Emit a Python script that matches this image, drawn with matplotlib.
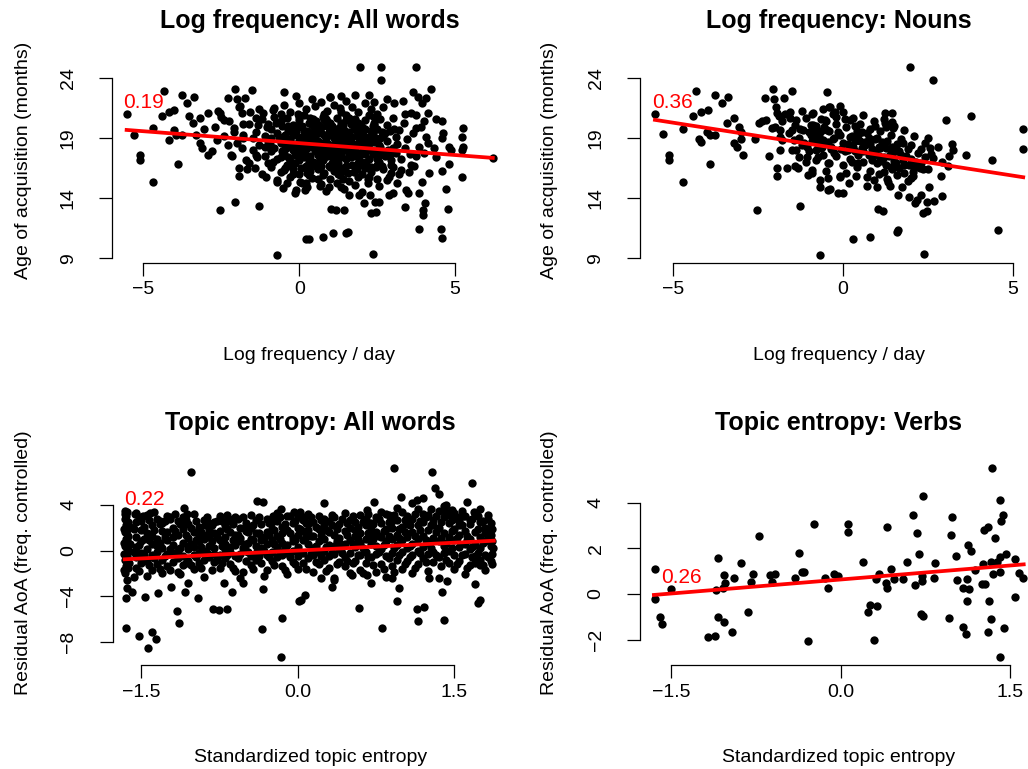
import matplotlib.pyplot as plt
import numpy as np

plt.rcParams['font.family'] = ['Liberation Sans', 'DejaVu Sans']

# ---- data: log frequency vs age of acquisition, all words ----
freq_all_pts = [
    (-5.54, 21.03), (-5.29, 19.28), (-5.12, 17.61), (-5.12, 17.19), (-4.70, 15.39), (-4.69, 19.83),
    (-4.35, 22.97), (-4.40, 20.86), (-4.19, 21.22), (-4.19, 18.86), (-4.01, 21.36), (-4.03, 19.69),
    (-3.95, 19.28), (-3.77, 19.28), (-3.90, 16.83), (-3.77, 22.61), (-3.59, 21.97), (-3.37, 22.47),
    (-3.55, 20.81), (-3.41, 20.25), (-3.20, 20.67), (-3.18, 18.58), (-3.13, 18.17), (-3.05, 19.75),
    (-2.93, 21.14), (-2.94, 17.61), (-2.63, 18.86), (-2.54, 13.03), (-2.54, 21.08), (-2.43, 20.53),
    (-2.27, 20.47), (-2.30, 22.33), (-2.16, 17.53), (-2.06, 13.67), (-2.09, 19.83), (-2.06, 23.08),
    (-2.00, 22.25), (-1.95, 21.64), (-1.85, 21.14), (-1.74, 22.33), (-1.80, 19.28), (-1.85, 18.17),
    (-1.92, 16.50), (-1.95, 15.86), (-1.69, 16.44), (-1.53, 23.03), (-1.58, 21.22), (-1.39, 20.67),
    (-1.32, 20.11), (-1.28, 13.33), (-1.42, 16.50), (-1.37, 17.47), (-1.16, 21.08), (-1.07, 15.81),
    (-1.00, 16.92), (-0.85, 21.36), (-0.70, 15.39), (-0.70, 9.28), (-0.52, 14.83), (-0.49, 22.89),
    (-0.49, 16.36), (-0.15, 14.47), (-0.09, 14.69), (0.02, 15.39), (0.23, 10.61),
    (1.96, 24.97), (2.62, 24.92), (2.62, 23.86), (3.74, 24.97), (0.99, 22.42), (1.35, 22.53),
    (2.23, 22.61), (2.81, 22.25), (3.64, 22.89), (3.80, 22.47), (4.22, 23.08), (4.06, 22.33),
    (3.94, 21.92), (3.32, 22.14), (3.05, 21.92), (3.58, 21.14), (3.74, 20.94), (4.12, 21.08),
    (4.38, 20.58), (4.57, 20.44), (4.01, 20.47), (3.74, 19.83), (5.26, 19.83), (5.23, 19.14),
    (5.26, 18.25), (5.23, 18.03), (4.62, 19.42), (4.59, 19.00), (4.81, 18.31), (4.86, 18.03),
    (4.06, 19.14), (4.12, 18.58), (4.33, 18.17), (4.38, 17.47), (4.81, 16.89), (4.59, 16.31),
    (5.21, 15.75), (6.23, 17.33), (4.72, 14.75), (4.76, 13.11), (4.54, 11.42), (4.59, 10.67),
    (3.83, 11.44), (4.04, 13.64), (3.98, 13.03), (3.96, 12.61), (3.83, 14.42), (3.93, 15.39),
    (4.17, 16.08), (3.69, 16.69), (3.74, 17.53), (3.53, 16.22), (3.42, 14.69), (3.40, 13.31),
    (3.48, 14.42), (3.26, 16.36), (3.13, 15.25), (2.95, 16.08), (2.89, 15.81), (3.00, 14.42),
    (2.87, 14.28), (2.57, 13.72), (2.44, 13.72), (2.31, 12.75), (2.47, 12.89), (2.55, 15.03),
    (2.27, 14.28), (2.09, 13.58), (1.93, 14.28), (1.61, 14.28), (1.03, 13.11), (1.19, 13.03),
    (1.42, 13.00), (1.56, 11.22), (1.49, 11.14), (1.08, 11.08), (0.76, 10.75), (0.31, 10.58),
    (2.38, 9.36), (0.66, 15.03), (0.97, 14.97), (1.35, 14.97), (0.18, 14.69), (0.21, 15.31),
    (-0.80, 21.5), (-0.50, 21.8), (-0.30, 21.2), (0.00, 21.9), (0.20, 21.4), (0.50, 21.7),
    (0.70, 22.0), (0.90, 21.3), (1.10, 21.8), (1.30, 21.5), (1.50, 22.1), (1.70, 21.6),
    (1.90, 21.2), (2.10, 21.9), (2.30, 21.4), (2.50, 21.0), (0.40, 22.3), (1.00, 22.4),
    (-0.10, 22.5), (1.80, 22.6), (2.40, 22.0), (2.70, 21.6),
    (-1.20, 20.6), (-1.00, 20.2), (-0.80, 20.8), (-0.60, 20.4), (-0.40, 20.7), (-0.20, 20.1),
    (0.00, 20.5), (0.15, 20.9), (0.30, 20.3), (0.45, 20.6), (0.60, 20.1), (0.75, 20.8),
    (0.90, 20.4), (1.05, 20.0), (1.20, 20.7), (1.35, 20.3), (1.50, 20.9), (1.65, 20.2),
    (1.80, 20.6), (1.95, 20.0), (2.10, 20.5), (2.25, 20.9), (2.40, 20.3), (2.60, 20.6),
    (2.80, 20.1), (3.00, 20.7),
    (-1.40, 19.5), (-1.10, 19.2), (-0.90, 19.8), (-0.70, 19.4), (-0.50, 19.0), (-0.35, 19.7),
    (-0.20, 19.3), (-0.05, 19.9), (0.10, 19.1), (0.25, 19.6), (0.40, 19.2), (0.55, 19.8),
    (0.70, 19.4), (0.85, 19.0), (1.00, 19.7), (1.15, 19.3), (1.30, 19.9), (1.45, 19.1),
    (1.60, 19.5), (1.75, 19.8), (1.90, 19.2), (2.05, 19.6), (2.20, 19.0), (2.35, 19.4),
    (2.50, 19.8), (2.70, 19.2), (2.90, 19.6), (3.10, 19.1),
    (-1.30, 18.4), (-1.00, 18.8), (-0.80, 18.2), (-0.60, 18.6), (-0.45, 18.1), (-0.30, 18.9),
    (-0.15, 18.5), (0.00, 18.0), (0.15, 18.7), (0.30, 18.3), (0.45, 18.9), (0.60, 18.4),
    (0.75, 18.0), (0.90, 18.6), (1.05, 18.2), (1.20, 18.8), (1.35, 18.4), (1.50, 18.0),
    (1.65, 18.7), (1.80, 18.3), (1.95, 18.9), (2.10, 18.5), (2.25, 18.1), (2.40, 18.7),
    (2.60, 18.3), (2.80, 18.8), (3.00, 18.2),
    (-1.10, 17.5), (-0.90, 17.9), (-0.70, 17.3), (-0.50, 17.7), (-0.30, 17.1), (-0.15, 17.6),
    (0.00, 17.2), (0.15, 17.8), (0.30, 17.4), (0.45, 17.0), (0.60, 17.6), (0.75, 17.2),
    (0.90, 17.8), (1.05, 17.4), (1.20, 17.0), (1.35, 17.7), (1.50, 17.3), (1.65, 17.9),
    (1.80, 17.5), (1.95, 17.1), (2.10, 17.7), (2.25, 17.3), (2.40, 17.9), (2.55, 17.0),
    (2.75, 17.5), (2.95, 17.2),
    (-0.90, 16.6), (-0.60, 16.2), (-0.40, 16.8), (-0.20, 16.4), (0.00, 16.0), (0.20, 16.7),
    (0.35, 16.3), (0.50, 16.9), (0.65, 16.5), (0.80, 16.1), (0.95, 16.7), (1.10, 16.3),
    (1.25, 16.9), (1.40, 16.5), (1.55, 16.1), (1.70, 16.8), (1.85, 16.4), (2.00, 16.0),
    (2.15, 16.6), (2.30, 16.2), (2.50, 16.8), (2.70, 16.4),
    (-0.70, 15.5), (-0.30, 15.8), (0.10, 15.3), (0.40, 15.7), (0.70, 15.2), (1.00, 15.6),
    (1.30, 15.9), (1.60, 15.4), (1.90, 15.8), (2.20, 15.3), (2.50, 15.6), (0.25, 14.9),
    (0.85, 14.6), (1.45, 14.8), (2.00, 14.5),
    (0.30, 19.0), (0.60, 18.8), (0.90, 19.2), (1.20, 18.6), (0.50, 17.9), (0.80, 17.7),
    (1.10, 18.0), (0.20, 18.1), (1.40, 19.0), (0.70, 19.9), (1.00, 20.3), (0.10, 20.0),
    (1.60, 18.9), (1.90, 17.8), (0.35, 17.5), (1.25, 17.6), (0.65, 16.9), (1.00, 16.6),
    (-0.40, 18.3), (-0.10, 19.5), (2.00, 19.9), (2.30, 18.0), (1.50, 20.5), (0.80, 21.0),
    (-0.60, 21.0), (-1.60, 20.2), (-1.80, 19.0), (-1.50, 18.0), (-2.10, 19.5), (-2.30, 18.4),
    (-1.70, 17.2), (-2.50, 20.8), (-2.70, 19.9), (-1.90, 21.7), (-2.20, 17.6), (-1.20, 16.0),
    (-1.05, 19.9), (-0.95, 18.5), (-0.85, 17.0), (-0.75, 20.3), (-0.65, 19.1), (-0.55, 17.9),
    (-0.45, 16.5), (-0.35, 20.0), (-0.25, 18.3), (-0.15, 16.9), (-0.05, 21.0), (0.05, 18.9),
    (0.15, 17.4), (0.25, 16.1), (0.35, 20.7), (0.45, 19.5), (0.55, 18.1), (0.65, 17.3),
    (0.75, 15.9), (0.85, 20.6), (0.95, 19.5), (1.05, 18.4), (1.15, 17.1), (1.25, 16.0),
    (1.35, 21.2), (1.45, 19.7), (1.55, 18.6), (1.65, 17.4), (1.75, 16.2), (1.85, 20.3),
    (1.95, 19.5), (2.05, 18.1), (2.15, 17.0), (2.25, 15.8), (2.35, 20.0), (2.45, 18.9),
    (2.55, 17.6), (2.65, 16.7), (2.75, 19.4), (2.85, 18.0), (2.95, 16.8), (3.05, 19.8),
    (3.15, 18.5), (3.25, 17.3), (3.35, 20.3), (3.45, 18.9), (3.55, 17.7), (3.65, 19.4),
    (3.85, 18.3), (4.00, 17.8), (3.40, 21.0), (3.20, 16.0),
    (-0.90, 19.0), (-0.60, 17.4), (-0.30, 19.6), (0.00, 18.3), (0.30, 17.0), (0.60, 19.5),
    (0.90, 18.0), (1.20, 16.5), (1.50, 19.2), (1.80, 17.8), (2.10, 16.5), (2.40, 19.1),
    (2.70, 17.8), (3.00, 16.6),
    (-0.20, 18.0), (0.10, 17.6), (0.40, 18.5), (0.70, 18.2), (1.00, 17.9), (1.30, 18.2),
    (1.60, 17.6), (1.90, 18.6), (2.20, 18.4), (2.50, 17.9), (0.20, 19.4), (0.50, 19.1),
    (0.80, 19.3), (1.10, 19.0), (1.40, 18.6), (1.70, 19.1), (2.00, 18.7), (2.30, 19.6),
    (2.60, 19.0), (0.00, 19.0), (-0.50, 18.7), (0.40, 20.1), (0.90, 20.0), (1.40, 20.1),
    (1.90, 20.3), (2.40, 20.1), (0.60, 16.4), (1.20, 15.3), (1.80, 15.1), (0.30, 15.9),
    (-0.40, 15.3), (2.80, 15.5),
    (-1.80, 20.2), (-1.50, 19.0), (-1.30, 21.4), (-1.10, 18.3), (-2.00, 18.6), (-2.40, 19.2),
    (-2.60, 21.3), (-1.60, 16.9), (-1.40, 17.6), (-2.80, 17.9), (-3.30, 19.3),
    (-0.55, 20.0), (-0.45, 19.3), (-0.35, 17.4), (-0.25, 16.7), (-0.05, 17.7), (0.05, 16.5),
    (0.15, 19.6), (0.25, 18.5), (0.35, 18.8), (0.45, 18.3), (0.55, 16.7), (0.55, 20.4),
    (0.65, 19.7), (0.75, 18.6), (0.85, 17.5), (0.95, 18.2), (1.05, 16.9), (1.15, 19.8),
    (1.25, 18.9), (1.35, 17.4), (1.45, 16.3), (1.55, 19.4), (1.65, 18.2), (1.75, 17.8),
    (1.85, 19.6), (1.95, 17.6), (2.05, 16.8), (2.15, 19.1), (2.25, 18.6), (2.35, 17.7),
    (2.45, 16.6), (2.55, 18.4), (2.65, 19.5), (0.10, 18.4), (0.50, 18.6), (0.90, 17.5),
    (1.30, 19.4), (1.70, 18.4), (2.10, 19.8), (2.50, 17.3), (0.30, 16.6), (0.70, 16.7),
    (1.10, 16.9), (1.50, 16.7), (1.90, 16.9), (2.30, 16.6), (-0.20, 16.0), (0.60, 15.6),
    (1.40, 15.6), (2.20, 15.6), (0.00, 20.8), (0.80, 20.5), (1.60, 20.7), (2.40, 20.8),
    (3.20, 19.7), (3.40, 18.2), (3.60, 16.8), (3.90, 19.9), (3.10, 17.8), (2.90, 17.7),
]
freq_all_fit_x = [-5.54, 6.21]
freq_all_fit_y = [19.69, 17.36]

# ---- data: log frequency vs age of acquisition, nouns ----
freq_noun_pts = [
    (-5.53, 21.03), (-5.28, 19.36), (-5.11, 17.61), (-5.11, 17.19), (-4.72, 15.36), (-4.70, 19.75),
    (-4.42, 20.86), (-4.32, 22.97), (-4.19, 21.19), (-4.23, 18.92), (-4.19, 18.67), (-3.96, 21.36),
    (-4.01, 19.56), (-3.91, 19.28), (-3.75, 19.28), (-3.91, 16.83), (-3.76, 22.56), (-3.57, 21.92),
    (-3.37, 22.47), (-3.40, 20.25), (-3.20, 20.67), (-3.20, 18.64), (-3.13, 18.31), (-3.05, 19.97),
    (-3.00, 19.50), (-3.00, 18.92), (-2.93, 17.61), (-2.59, 18.92), (-2.54, 13.00), (-2.46, 20.25),
    (-2.39, 20.47), (-2.25, 20.53), (-2.29, 22.33), (-2.17, 17.53), (-2.10, 19.83), (-2.05, 23.08),
    (-2.03, 22.25), (-1.97, 21.64), (-1.93, 21.14), (-1.87, 20.81), (-1.85, 19.69), (-1.79, 18.86),
    (-1.73, 22.33), (-1.85, 18.03), (-1.93, 16.50), (-1.95, 15.89), (-1.66, 16.50), (-1.56, 21.22),
    (-1.51, 22.97), (-1.50, 19.69), (-1.44, 18.86), (-1.38, 20.53), (-1.37, 18.03), (-1.31, 16.50),
    (-1.26, 13.33), (-1.17, 19.69), (-1.15, 18.58), (-1.07, 17.47), (-1.02, 15.94), (-0.92, 16.36),
    (-0.87, 21.08), (-0.87, 20.11), (-0.82, 19.14), (-0.79, 18.03), (-0.73, 17.47), (-0.68, 15.53),
    (-0.68, 14.97), (-0.63, 18.31), (-0.60, 18.86), (-0.68, 9.28), (-0.53, 20.53), (-0.48, 19.69),
    (-0.48, 22.89), (-0.43, 16.92), (-0.43, 14.69), (-0.40, 21.64),
    (1.97, 24.97), (2.66, 23.86), (-0.38, 21.64), (-0.24, 21.22), (-0.09, 21.69), (1.24, 21.14),
    (1.43, 21.08), (1.24, 20.25), (1.43, 20.39), (1.46, 19.83), (3.03, 20.53), (3.75, 20.81),
    (5.28, 19.81), (5.28, 18.14), (4.38, 17.19), (3.62, 17.61), (3.20, 18.53), (3.23, 18.03),
    (3.13, 17.53), (3.10, 16.69), (2.87, 15.86), (2.90, 14.22), (2.56, 18.17), (2.64, 17.33),
    (2.54, 14.97), (2.51, 19.00), (2.36, 16.42), (2.29, 14.28), (2.12, 13.58), (2.17, 13.86),
    (2.48, 13.69), (2.68, 13.81), (2.36, 12.75), (2.48, 12.92), (2.05, 15.89), (1.95, 14.14),
    (1.73, 14.97), (1.63, 14.28), (2.38, 9.36), (4.57, 11.36), (1.58, 11.22), (1.63, 11.36),
    (0.79, 10.75), (0.30, 10.58), (1.04, 13.08), (1.19, 12.97), (-0.38, 14.75), (-0.14, 14.42),
    (0.01, 14.47), (0.19, 15.31), (0.70, 15.03), (0.99, 14.97), (1.33, 15.39), (1.38, 15.03),
    (0.38, 15.86), (-0.09, 15.86), (-0.43, 15.67),
    (-2.00, 19.9), (-1.80, 20.4), (-1.60, 19.4), (-1.40, 20.1), (-1.30, 19.0), (-1.20, 18.4),
    (-1.10, 20.7), (-1.00, 19.5), (-0.90, 18.8), (-0.80, 20.0), (-0.70, 19.2), (-0.60, 18.5),
    (-0.50, 20.4), (-0.40, 19.6), (-0.30, 18.9), (-0.20, 20.2), (-0.10, 19.3), (0.00, 18.6),
    (0.10, 19.9), (0.20, 19.1), (0.30, 18.3), (0.40, 19.6), (0.50, 18.8), (0.60, 17.9),
    (0.70, 19.4), (0.80, 18.5), (0.90, 17.7), (1.00, 19.0), (1.10, 18.2), (1.20, 17.4),
    (1.30, 18.8), (1.40, 17.9), (1.50, 17.1), (1.60, 18.5), (1.70, 17.6), (1.80, 16.8),
    (1.90, 18.1), (2.00, 17.3), (2.10, 16.5), (2.20, 17.8), (2.30, 16.9), (2.40, 17.4),
    (-1.50, 18.0), (-1.30, 17.4), (-1.00, 17.9), (-0.80, 17.2), (-0.60, 17.6), (-0.40, 16.9),
    (-0.20, 17.5), (0.00, 16.8), (0.20, 17.3), (0.40, 16.6), (0.60, 17.0), (0.80, 16.3),
    (1.00, 16.9), (1.20, 16.2), (1.40, 16.6), (1.60, 15.9), (1.80, 16.1), (2.00, 15.7),
    (-0.50, 16.3), (0.10, 16.1), (0.70, 15.8), (1.30, 15.6),
    (-1.70, 21.0), (-1.20, 21.3), (-0.90, 21.0), (-0.60, 21.4), (-0.30, 21.0), (0.00, 21.2),
    (0.30, 20.7), (0.60, 20.9), (0.90, 20.4), (1.20, 20.6), (1.50, 20.0), (1.80, 19.7),
    (2.10, 19.2), (2.40, 18.6), (0.50, 20.2), (0.20, 20.5), (-0.20, 20.8), (0.80, 19.8),
    (1.10, 19.6), (1.40, 19.3), (1.70, 18.9), (2.00, 18.4), (2.30, 18.1), (2.60, 17.7),
    (2.80, 18.3), (2.90, 17.0), (2.50, 16.4), (1.90, 15.4), (0.90, 15.5), (-0.10, 15.8),
    (-0.90, 16.1), (-1.10, 17.0), (-1.40, 16.7), (0.35, 17.9), (0.65, 18.4), (1.05, 17.5),
    (1.45, 18.3), (0.15, 18.0), (-0.35, 18.1), (-0.65, 18.2), (-0.95, 19.3), (0.45, 19.3),
    (0.95, 18.9), (1.55, 17.9), (1.25, 19.9),
    (-0.95, 20.1), (-0.75, 18.6), (-0.55, 19.9), (-0.35, 18.3), (-0.15, 19.5), (0.05, 17.9),
    (0.25, 19.2), (0.45, 17.6), (0.65, 18.7), (0.85, 17.2), (1.05, 18.3), (1.25, 16.8),
    (1.45, 17.8), (1.65, 16.5), (1.85, 17.5), (2.05, 16.2), (0.15, 18.5), (0.55, 18.2),
    (0.95, 17.9), (1.35, 17.5), (1.75, 17.2), (-0.25, 19.0), (-0.65, 19.6), (0.35, 20.0),
    (0.75, 19.0), (1.15, 18.7), (1.55, 18.1), (-1.25, 19.8), (-1.55, 20.7), (-1.85, 19.1),
    (-0.85, 19.6), (-0.45, 18.7), (-0.05, 18.1), (0.35, 18.8), (0.75, 17.6), (1.15, 17.1),
    (1.55, 16.9), (1.95, 16.8), (-0.25, 17.8), (0.25, 17.0), (0.55, 19.5), (0.85, 18.1),
    (1.25, 18.2), (1.65, 17.9), (2.15, 17.0), (-0.65, 20.6), (-1.05, 18.3), (0.05, 20.6),
    (0.45, 16.9), (1.05, 16.0), (1.45, 16.4), (2.25, 16.5), (0.95, 20.0), (1.75, 18.6),
]
freq_noun_fit_x = [-5.53, 5.30]
freq_noun_fit_y = [20.53, 15.75]

# ---- data: topic entropy vs residual AoA, all words ----
ent_all_pts = [
    (-1.02, 6.86), (-1.65, -6.83), (-1.52, -7.50), (-1.44, -8.52), (-1.40, -7.12), (-1.36, -7.76),
    (-1.14, -6.39), (-1.16, -5.31), (-0.96, -4.20), (-0.81, -5.16), (-0.76, -5.22), (-0.68, -5.13),
    (-0.34, -6.92), (-0.15, -5.95), (-0.16, -9.31), (-0.33, -3.38), (-1.65, -4.20), (-1.64, -3.32),
    (-1.59, -3.61), (-1.47, -4.05), (-1.34, -3.76), (-1.22, -3.17), (-1.05, -2.88), (-1.08, -3.61),
    (-0.71, -2.82), (-0.63, -3.61), (-0.53, -2.88), (0.01, -4.40),
    (-1.64, 3.41), (-1.56, 3.17), (-1.48, 3.03), (-1.42, 3.26), (-1.09, 3.70), (-1.06, 3.17),
    (-1.23, 2.97), (-1.32, 2.59), (-1.12, 2.38), (-0.89, 2.24), (-0.66, 2.73), (-0.52, 2.00),
    (-0.39, 4.34), (-0.33, 4.28), (-0.24, 3.03), (-0.16, 3.61), (-0.04, 3.35), (0.06, 2.97),
    (0.92, 7.21), (1.29, 6.92), (1.67, 5.89), (1.32, 5.51), (1.35, 4.93), (1.20, 4.58),
    (1.14, 4.43), (1.10, 4.14), (0.99, 4.72), (0.73, 4.28), (0.25, 4.14), (0.66, 3.55),
    (0.87, 3.11), (1.42, 4.00), (1.48, 3.55), (1.62, 4.28), (1.58, 3.03), (1.69, 3.35),
    (1.82, 3.11), (1.82, 1.80), (1.87, 0.19), (1.86, -1.21), (1.75, -1.27), (1.70, -2.97),
    (1.75, -4.34), (1.73, -4.58), (1.38, -3.61), (1.43, -2.68), (1.26, -2.38), (1.14, -5.13),
    (1.21, -4.98), (1.15, -6.15), (1.40, -6.10), (0.81, -6.82), (0.59, -5.07), (0.95, -4.43),
    (0.97, -3.32), (0.90, -2.44), (0.70, -2.88), (0.66, -2.15), (0.33, -3.17), (0.35, -2.59),
    (0.22, -2.44), (0.07, -3.90), (0.03, -4.34), (0.52, -2.15),
    (-1.66, 3.5), (-1.66, 2.8), (-1.65, 2.2), (-1.66, 1.6), (-1.65, 1.0), (-1.66, 0.4),
    (-1.65, -0.2), (-1.66, -0.8), (-1.65, -1.4), (-1.66, -2.0), (-1.64, -2.6), (-1.65, 3.0),
    (-1.63, 1.3), (-1.64, -0.5), (-1.63, 2.5), (-1.62, 0.0), (-1.62, -1.1),
    (-1.67, 1.9), (-1.67, 0.7), (-1.67, -0.3), (-1.67, -1.7), (-1.66, 3.2), (-1.64, 1.8),
    (-1.64, 0.9), (-1.63, -1.5), (-1.61, 2.1), (-1.61, 0.6),
    (-1.55, 2.5), (-1.55, 1.2), (-1.55, 0.3), (-1.55, -0.6), (-1.55, -1.5), (-1.55, 3.3),
    (-1.50, 1.8), (-1.50, 0.8), (-1.50, -0.2), (-1.50, -1.1), (-1.50, 2.6),
    (-1.45, 3.1), (-1.45, 1.5), (-1.45, 0.1), (-1.45, -0.9), (-1.45, -2.2),
    (-1.40, 2.2), (-1.40, 0.6), (-1.40, -0.4), (-1.40, 1.3), (-1.40, -1.7),
    (-1.35, 2.8), (-1.35, 1.0), (-1.35, -0.1), (-1.35, -1.2), (-1.35, 0.4),
    (-1.30, 1.7), (-1.30, 0.2), (-1.30, -0.8), (-1.30, 2.4), (-1.30, -2.0),
    (-1.25, 3.0), (-1.25, 0.9), (-1.25, -0.3), (-1.25, 1.6), (-1.25, -1.4),
    (-1.20, 2.0), (-1.20, 0.5), (-1.20, -1.0), (-1.20, 1.2), (-1.20, -0.2),
    (-1.15, 2.6), (-1.15, 1.4), (-1.15, 0.0), (-1.15, -0.7), (-1.15, -1.9),
    (-1.10, 1.9), (-1.10, 0.7), (-1.10, -0.5), (-1.10, 2.9), (-1.10, -1.3),
    (-1.05, 2.3), (-1.05, 1.1), (-1.05, 0.1), (-1.05, -0.9), (-1.05, 0.4),
    (-1.00, 3.2), (-1.00, 1.6), (-1.00, 0.3), (-1.00, -0.4), (-1.00, -1.6),
    (-0.95, 2.1), (-0.95, 0.8), (-0.95, -0.2), (-0.95, 1.3), (-0.95, -1.1),
    (-0.90, 2.7), (-0.90, 1.0), (-0.90, 0.0), (-0.90, -0.8), (-0.90, -2.3),
    (-0.85, 1.8), (-0.85, 0.4), (-0.85, -0.6), (-0.85, 2.4), (-0.85, 1.2),
    (-0.80, 2.5), (-0.80, 1.5), (-0.80, 0.2), (-0.80, -1.0), (-0.80, -0.3),
    (-0.75, 3.0), (-0.75, 0.9), (-0.75, -0.4), (-0.75, 1.7), (-0.75, -1.5),
    (-0.70, 2.2), (-0.70, 1.2), (-0.70, 0.1), (-0.70, -0.7), (-0.70, 0.6),
    (-0.65, 1.6), (-0.65, 0.3), (-0.65, -1.2), (-0.65, 2.6), (-0.65, -0.1),
    (-0.60, 2.9), (-0.60, 1.4), (-0.60, 0.5), (-0.60, -0.5), (-0.60, -1.8),
    (-0.55, 2.0), (-0.55, 0.8), (-0.55, -0.3), (-0.55, 1.1), (-0.55, -2.4),
    (-0.50, 2.4), (-0.50, 1.7), (-0.50, 0.0), (-0.50, -0.9), (-0.50, 0.6),
    (-0.45, 3.1), (-0.45, 1.0), (-0.45, -0.5), (-0.45, 2.0), (-0.45, -1.3),
    (-0.40, 1.5), (-0.40, 0.4), (-0.40, -0.2), (-0.40, 2.7), (-0.40, -0.8),
    (-0.35, 2.3), (-0.35, 1.2), (-0.35, 0.2), (-0.35, -1.1), (-0.35, 0.9),
    (-0.30, 2.8), (-0.30, 1.6), (-0.30, 0.6), (-0.30, -0.4), (-0.30, -1.7),
    (-0.25, 1.9), (-0.25, 0.9), (-0.25, -0.1), (-0.25, 2.5), (-0.25, -0.9),
    (-0.20, 2.6), (-0.20, 1.3), (-0.20, 0.3), (-0.20, -0.6), (-0.20, 3.3),
    (-0.15, 2.1), (-0.15, 0.7), (-0.15, -0.4), (-0.15, 1.5), (-0.15, -1.4),
    (-0.10, 3.0), (-0.10, 1.8), (-0.10, 0.5), (-0.10, -0.2), (-0.10, -2.1),
    (-0.05, 2.4), (-0.05, 1.1), (-0.05, 0.0), (-0.05, -1.0), (-0.05, 0.8),
    (0.00, 2.0), (0.00, 1.4), (0.00, 0.3), (0.00, -0.5), (0.00, -1.6), (0.00, 2.9),
    (0.05, 2.7), (0.05, 0.9), (0.05, -0.2), (0.05, 1.7), (0.05, -1.1),
    (0.10, 1.8), (0.10, 0.6), (0.10, -0.7), (0.10, 2.3), (0.10, 3.2),
    (0.15, 2.5), (0.15, 1.3), (0.15, 0.2), (0.15, -0.4), (0.15, -1.9),
    (0.20, 3.0), (0.20, 1.9), (0.20, 0.8), (0.20, -0.1), (0.20, -1.2),
    (0.25, 2.2), (0.25, 1.0), (0.25, 0.0), (0.25, -0.8), (0.25, 2.8),
    (0.30, 1.6), (0.30, 0.5), (0.30, -0.5), (0.30, 2.6), (0.30, -1.5),
    (0.35, 2.9), (0.35, 1.4), (0.35, 0.4), (0.35, -0.3), (0.35, -2.4),
    (0.40, 2.3), (0.40, 1.1), (0.40, 0.1), (0.40, -1.0), (0.40, 0.7),
    (0.45, 3.3), (0.45, 1.7), (0.45, 0.6), (0.45, -0.6), (0.45, -1.4),
    (0.50, 2.0), (0.50, 0.9), (0.50, -0.2), (0.50, 2.7), (0.50, -2.0),
    (0.55, 2.5), (0.55, 1.3), (0.55, 0.3), (0.55, -0.9), (0.55, 1.8),
    (0.60, 3.1), (0.60, 1.5), (0.60, 0.7), (0.60, -0.4), (0.60, -1.7),
    (0.65, 2.2), (0.65, 1.0), (0.65, -0.1), (0.65, 2.8), (0.65, -1.1),
    (0.70, 1.8), (0.70, 0.6), (0.70, -0.6), (0.70, 2.4), (0.70, 1.3),
    (0.75, 2.9), (0.75, 1.6), (0.75, 0.4), (0.75, -0.3), (0.75, -1.9),
    (0.80, 2.4), (0.80, 1.2), (0.80, 0.1), (0.80, -1.2), (0.80, 3.4),
    (0.85, 3.2), (0.85, 1.9), (0.85, 0.8), (0.85, -0.5), (0.85, -2.3),
    (0.90, 2.0), (0.90, 1.0), (0.90, -0.2), (0.90, 2.6), (0.90, -1.4),
    (0.95, 2.7), (0.95, 1.4), (0.95, 0.5), (0.95, -0.8), (0.95, 3.7),
    (1.00, 3.4), (1.00, 2.1), (1.00, 0.9), (1.00, -0.1), (1.00, -1.6),
    (1.05, 2.3), (1.05, 1.2), (1.05, 0.2), (1.05, -0.9), (1.05, 3.0),
    (1.10, 2.8), (1.10, 1.6), (1.10, 0.6), (1.10, -0.4), (1.10, -2.0),
    (1.15, 3.6), (1.15, 2.2), (1.15, 1.0), (1.15, 0.0), (1.15, -1.2),
    (1.20, 2.5), (1.20, 1.3), (1.20, 0.3), (1.20, -0.7), (1.20, 3.2),
    (1.25, 3.1), (1.25, 1.8), (1.25, 0.7), (1.25, -0.3), (1.25, -1.8),
    (1.30, 2.2), (1.30, 1.1), (1.30, -0.1), (1.30, 2.7), (1.30, -1.0),
    (1.35, 3.5), (1.35, 2.0), (1.35, 0.8), (1.35, -0.6), (1.35, -2.4),
    (1.40, 2.9), (1.40, 1.5), (1.40, 0.4), (1.40, -0.2), (1.40, 3.9),
    (1.45, 2.4), (1.45, 1.2), (1.45, 0.0), (1.45, -1.1), (1.45, 3.1),
    (1.50, 3.3), (1.50, 1.9), (1.50, 0.9), (1.50, -0.4), (1.50, -1.6),
    (1.55, 2.6), (1.55, 1.4), (1.55, 0.3), (1.55, -0.9), (1.55, 2.2),
    (1.60, 3.0), (1.60, 1.7), (1.60, 0.6), (1.60, -0.3), (1.60, -2.1),
    (1.65, 2.3), (1.65, 1.0), (1.65, 0.1), (1.65, -1.3), (1.65, 2.7),
    (1.70, 3.2), (1.70, 1.6), (1.70, 0.5), (1.70, -0.5), (1.70, -1.1),
    (1.75, 2.5), (1.75, 1.2), (1.75, 0.2), (1.75, -0.8), (1.75, 3.6),
    (1.80, 2.0), (1.80, 0.8), (1.80, -0.4), (1.80, 1.5), (1.80, -1.7),
    (1.85, 1.4), (1.85, 0.4), (1.85, -0.9), (1.85, 2.4),
    (-1.575, 1.9), (-1.575, -0.1), (-1.575, -2.3), (-1.525, 2.9), (-1.525, 0.5), (-1.525, -1.8),
    (-1.475, 2.1), (-1.475, -0.4), (-1.475, 1.0), (-1.425, 0.9), (-1.425, -1.3), (-1.425, 2.7),
    (-1.375, 1.8), (-1.375, -0.7), (-1.375, 3.4), (-1.325, 2.3), (-1.325, 0.7), (-1.325, -1.6),
    (-1.275, 1.2), (-1.275, -0.5), (-1.275, 2.6), (-1.225, 2.8), (-1.225, 0.1), (-1.225, -1.7),
    (-1.175, 1.7), (-1.175, -0.3), (-1.175, 3.2), (-1.125, 2.3), (-1.125, 0.2), (-1.125, -2.1),
    (-1.075, 1.4), (-1.075, -1.1), (-1.075, 2.7), (-1.025, 2.0), (-1.025, 0.6), (-1.025, -1.3),
    (-0.975, 2.6), (-0.975, -0.6), (-0.975, 0.9), (-0.925, 1.6), (-0.925, 0.3), (-0.925, -1.5),
    (-0.875, 2.9), (-0.875, -0.2), (-0.875, 1.4), (-0.825, 2.2), (-0.825, 0.8), (-0.825, -1.7),
    (-0.775, 1.2), (-0.775, -0.8), (-0.775, 2.6), (-0.725, 2.6), (-0.725, 0.4), (-0.725, -1.1),
    (-0.675, 1.9), (-0.675, -0.4), (-0.675, 3.1), (-0.625, 2.3), (-0.625, 0.9), (-0.625, -1.5),
    (-0.575, 1.4), (-0.575, -0.7), (-0.575, 2.8), (-0.525, 2.9), (-0.525, 0.2), (-0.525, -1.9),
    (-0.475, 1.6), (-0.475, -0.1), (-0.475, 0.7), (-0.425, 2.2), (-0.425, 0.9), (-0.425, -1.6),
    (-0.375, 2.9), (-0.375, -0.5), (-0.375, 1.5), (-0.325, 1.1), (-0.325, 0.0), (-0.325, -2.2),
    (-0.275, 2.4), (-0.275, 1.4), (-0.275, -0.6), (-0.225, 1.8), (-0.225, 0.6), (-0.225, -1.3),
    (-0.175, 2.9), (-0.175, -0.1), (-0.175, 1.0), (-0.125, 2.3), (-0.125, 0.2), (-0.125, -1.7),
    (-0.075, 1.5), (-0.075, -0.6), (-0.075, 3.0), (-0.025, 2.6), (-0.025, 0.9), (-0.025, -1.2),
    (0.025, 1.9), (0.025, -0.1), (0.025, 3.4), (0.075, 2.4), (0.075, 1.2), (0.075, -1.6),
    (0.125, 1.3), (0.125, -0.3), (0.125, 2.9), (0.175, 2.1), (0.175, 0.4), (0.175, -1.0),
    (0.225, 2.7), (0.225, 1.4), (0.225, -0.5), (0.275, 1.8), (0.275, 0.3), (0.275, -1.8),
    (0.325, 2.2), (0.325, -0.2), (0.325, 3.1), (0.375, 1.9), (0.375, 0.8), (0.375, -1.2),
    (0.425, 2.8), (0.425, 0.3), (0.425, -0.2), (0.475, 1.4), (0.475, -0.9), (0.475, 2.4),
    (0.525, 3.0), (0.525, 0.6), (0.525, -1.1), (0.575, 2.1), (0.575, -0.4), (0.575, 1.0),
    (0.625, 2.5), (0.625, 0.2), (0.625, -2.0), (0.675, 1.5), (0.675, -0.6), (0.675, 3.2),
    (0.725, 2.3), (0.725, 1.0), (0.725, -1.3), (0.775, 2.8), (0.775, -0.1), (0.775, 1.3),
    (0.825, 1.7), (0.825, 0.5), (0.825, -1.6), (0.875, 2.5), (0.875, 1.3), (0.875, -0.7),
    (0.925, 3.1), (0.925, 0.2), (0.925, -1.9), (0.975, 1.9), (0.975, -0.4), (0.975, 1.1),
    (1.025, 2.7), (1.025, 1.6), (1.025, -1.2), (1.075, 2.2), (1.075, 0.4), (1.075, -0.6),
    (1.125, 3.2), (1.125, 1.3), (1.125, -1.5), (1.175, 1.8), (1.175, -0.2), (1.175, 2.6),
    (1.225, 2.9), (1.225, 0.9), (1.225, -1.0), (1.275, 2.2), (1.275, 0.2), (1.275, 3.6),
    (1.325, 1.6), (1.325, -0.4), (1.325, 3.0), (1.375, 2.5), (1.375, 1.1), (1.375, -1.4),
    (1.425, 3.4), (1.425, 0.7), (1.425, -0.8), (1.475, 1.7), (1.475, 0.2), (1.475, 2.7),
    (1.525, 2.9), (1.525, 1.1), (1.525, -1.2), (1.575, 2.2), (1.575, -0.4), (1.575, 3.5),
    (1.625, 1.3), (1.625, 0.9), (1.625, -1.5), (1.675, 2.8), (1.675, 0.3), (1.675, -0.6),
    (1.725, 1.9), (1.725, -0.2), (1.725, 3.0), (1.775, 2.6), (1.775, 0.7), (1.775, -1.3),
    (1.825, 1.1), (1.825, -0.6), (1.825, 2.8), (1.865, 1.9), (1.865, 0.8), (1.865, -0.3),
]
ent_all_fit_x = [-1.66, 1.88]
ent_all_fit_y = [-0.77, 0.86]

# ---- data: topic entropy vs residual AoA, verbs ----
ent_verb_pts = [
    (-1.64, 1.10), (-1.64, -0.22), (-1.60, -1.01), (-1.58, -1.30), (-1.50, 0.23), (-1.08, 1.59),
    (-1.03, 0.83), (-1.02, 0.50), (-1.04, 0.28), (-1.10, 0.18), (-1.08, -1.02), (-1.03, -1.21),
    (-1.17, -1.87), (-1.11, -1.84), (-0.96, -1.67), (-0.94, 0.72), (-0.88, 1.37), (-0.82, -0.79),
    (-0.79, 0.54), (-0.77, 0.88), (-0.72, 2.56), (-0.62, 0.83), (-0.61, 0.51), (-0.58, 0.88),
    (-0.40, 0.70), (-0.37, 1.78), (-0.34, 0.98), (-0.32, 0.98), (-0.29, -2.08), (-0.23, 3.06),
    (-0.14, 0.70), (-0.11, 0.25), (-0.06, 0.88), (-0.02, 0.79), (0.07, 3.06), (0.07, 2.73),
    (0.20, 1.42), (0.24, -0.77), (0.26, -0.48), (0.32, -0.51), (0.30, -2.03), (0.31, 0.66),
    (0.34, 0.86), (0.41, 2.95), (0.40, 0.50), (0.41, 0.26), (0.45, 1.10), (0.47, 0.64),
    (0.55, 0.64), (0.59, 1.39), (0.64, 3.45), (0.68, 2.68), (0.69, 1.74), (0.66, 0.41),
    (0.72, 0.58), (0.72, 0.80), (0.71, -0.86), (0.73, -0.95), (0.73, 4.30), (0.83, 0.69),
    (0.84, 1.37), (0.96, -1.07), (0.99, 3.39), (0.98, 2.57), (1.02, 1.65), (1.03, 0.61),
    (1.08, 0.28), (1.12, 0.66), (1.12, -0.31), (1.14, 0.22), (1.13, 2.16), (1.15, 1.87),
    (1.08, -1.43), (1.11, -1.73), (1.19, 1.05), (1.25, 0.42), (1.28, 0.45), (1.26, 1.30),
    (1.27, 2.82), (1.30, 2.94), (1.31, -0.29), (1.33, -1.10), (1.30, -1.67), (1.33, 1.42),
    (1.35, 0.89), (1.37, 2.47), (1.34, 5.51), (1.38, 1.42), (1.41, 1.62), (1.41, 0.98),
    (1.41, 4.11), (1.42, 3.20), (1.44, 3.45), (1.46, 1.74), (1.45, -1.49), (1.41, -2.78),
    (1.54, 1.54), (1.54, -0.15), (1.58, 0.91), (1.61, 0.69),
]
ent_verb_fit_x = [-1.65, 1.62]
ent_verb_fit_y = [-0.04, 1.30]

titles = ["Log frequency: All words", "Log frequency: Nouns",
          "Topic entropy: All words", "Topic entropy: Verbs"]
xlabels = ["Log frequency / day", "Log frequency / day",
           "Standardized topic entropy", "Standardized topic entropy"]
ylabels = ["Age of acquisition (months)", "Age of acquisition (months)",
           "Residual AoA (freq. controlled)", "Residual AoA (freq. controlled)"]
r_labels = ["0.19", "0.36", "0.22", "0.26"]
r_pos = [(-5.0, 22.0), (-5.0, 22.0), (-1.47, 4.5), (-1.41, 0.72)]
xticks = [[-5, 0, 5], [-5, 0, 5], [-1.5, 0.0, 1.5], [-1.5, 0.0, 1.5]]
xticklabels = [["\u22125", "0", "5"], ["\u22125", "0", "5"],
               ["\u22121.5", "0.0", "1.5"], ["\u22121.5", "0.0", "1.5"]]
yticks = [[9, 14, 19, 24], [9, 14, 19, 24], [-8, -4, 0, 4], [-2, 0, 2, 4]]
xlims = [(-6.0, 6.65), (-5.97, 5.72), (-1.775, 2.016), (-1.773, 1.742)]
ylims = [(8.63, 25.6), (8.63, 25.6), (-10.04, 7.85), (-3.11, 5.83)]

points = [freq_all_pts, freq_noun_pts, ent_all_pts, ent_verb_pts]
fits = [(freq_all_fit_x, freq_all_fit_y), (freq_noun_fit_x, freq_noun_fit_y),
        (ent_all_fit_x, ent_all_fit_y), (ent_verb_fit_x, ent_verb_fit_y)]

W, H = 1028, 769
# plot regions in pixels: left, top, right, bottom
boxes = [(112.3, 59, 506.5, 262.7), (640, 59, 1037.5, 262.7),
         (112.7, 461, 508, 665), (640, 461, 1037.5, 665)]

fig = plt.figure(figsize=(W / 100, H / 100), dpi=100)

for i in range(4):
    l, t, r, b = boxes[i]
    ax = fig.add_axes([l / W, 1 - b / H, (r - l) / W, (b - t) / H])
    pts = np.array(points[i])
    ax.scatter(pts[:, 0], pts[:, 1], s=36, color='black', linewidths=0, zorder=2)
    ax.plot(fits[i][0], fits[i][1], color='red', lw=2.7, zorder=3)
    ax.text(r_pos[i][0], r_pos[i][1], r_labels[i], color='red', fontsize=15,
            ha='center', va='center', zorder=4)
    ax.set_xlim(xlims[i])
    ax.set_ylim(ylims[i])
    ax.set_xticks(xticks[i])
    ax.set_xticklabels(xticklabels[i])
    ax.set_yticks(yticks[i])
    ax.set_yticklabels([str(v).replace('-', '\u2212') for v in yticks[i]],
                       rotation=90, va='center')
    ax.spines['top'].set_visible(False)
    ax.spines['right'].set_visible(False)
    ax.spines['left'].set_bounds(yticks[i][0], yticks[i][-1])
    ax.spines['bottom'].set_bounds(xticks[i][0], xticks[i][-1])
    for s in ('left', 'bottom'):
        ax.spines[s].set_linewidth(0.9)
    ax.tick_params(length=9.5, width=0.9, labelsize=14, pad=4)
    ax.tick_params(axis='y', pad=16)
    ax.patch.set_visible(False)

    cx = (l + r) / 2
    fig.text(cx / W, 1 - 28 / H - (0 if i < 2 else 402 / H), titles[i],
             fontsize=18, fontweight='bold', ha='center', va='baseline')
    xl_y = 356 if i < 2 else 758
    fig.text(cx / W, 1 - xl_y / H, xlabels[i], fontsize=14, ha='center', va='center')
    yl_x = 24 if i % 2 == 0 else 550
    fig.text(yl_x / W, 1 - ((t + b) / 2) / H, ylabels[i], fontsize=14,
             rotation=90, ha='center', va='center')

fig.savefig('out.png', dpi=100)
